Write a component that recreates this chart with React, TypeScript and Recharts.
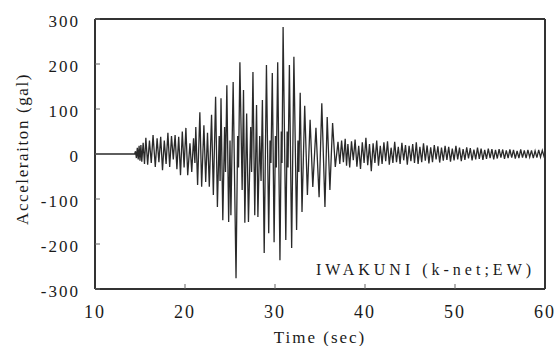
import { LineChart, Line, XAxis, YAxis } from "recharts";

// [time (sec), acceleration (gal)], peak by peak
const preEvent = [
  [10, 0], [14.4, 0],
];

const onset = [
  [14.5, 6], [14.6, -9], [14.7, 14], [14.8, -12], [14.9, 18], [15.0, -15],
  [15.1, 20], [15.2, -17], [15.35, 25], [15.5, -22], [15.65, 36], [15.85, -24],
  [16.05, 30], [16.25, -20], [16.45, 42], [16.7, -29], [16.9, 35], [17.1, -18],
  [17.3, 38], [17.5, -36], [17.7, 30], [17.9, -22], [18.1, 47], [18.3, -29],
  [18.5, 40], [18.7, -12], [18.9, 42], [19.1, -34], [19.3, 38], [19.5, -47],
  [19.7, 50], [19.9, -30],
];

const strongMotion = [
  [20.1, 58], [20.3, -47], [20.55, 24], [20.75, -40], [20.95, 35], [21.1, -20],
  [21.2, 60], [21.4, -69], [21.65, 93], [21.85, -73], [22.1, 64], [22.3, -62],
  [22.5, 47], [22.7, -73], [22.95, 87], [23.15, -91], [23.4, 127], [23.6, -118],
  [23.8, 40], [23.9, -60], [24.0, 124], [24.2, -147], [24.4, 60], [24.5, -40],
  [24.65, 153], [24.85, -151], [25.0, 30], [25.1, -136], [25.35, 160], [25.67, -276],
  [25.85, 40], [25.95, -30], [26.1, 204], [26.35, -80], [26.5, 142], [26.65, -153],
  [26.85, 90], [27.05, -151], [27.3, 60], [27.4, -40], [27.55, 182], [27.75, -136],
  [27.95, 109], [28.1, -140], [28.3, 40], [28.45, -60], [28.6, 120], [28.8, -220],
  [29.05, 198], [29.3, -176], [29.45, 30], [29.55, -20], [29.7, 180], [29.9, -196],
  [30.05, 40], [30.15, -30], [30.3, 204], [30.55, -236], [30.7, 50], [30.78, -20],
  [30.9, 282], [31.2, -191], [31.35, 50], [31.45, -30], [31.6, 198], [31.85, -209],
  [32.1, 216], [32.4, -169], [32.55, 30], [32.65, -40], [32.8, 136], [33.0, -129],
  [33.3, 107], [33.6, -91], [33.9, 76], [34.2, -73], [34.55, 58], [34.9, -96],
  [35.2, 113], [35.55, -118], [35.8, 82], [36.1, -80], [36.4, 69], [36.7, -29],
  [37.0, 27],
];

const coda = [
  [37.2, -22], [37.4, 30], [37.6, -18], [37.8, 34], [37.95, -26], [38.1, 22],
  [38.3, -30], [38.5, 28], [38.7, -14], [38.9, 32], [39.1, -28], [39.3, 18],
  [39.5, -33], [39.7, 26], [39.9, -20], [40.1, 36], [40.3, -25], [40.5, 22],
  [40.7, -38], [40.9, 24], [41.1, -20], [41.3, 30], [41.5, -26], [41.7, 18],
  [41.9, -22], [42.1, 26], [42.3, -16], [42.5, 28], [42.7, -24], [42.9, 14],
  [43.1, -20], [43.3, 27], [43.5, -18], [43.7, 16], [43.9, -22], [44.1, 25],
  [44.3, -14], [44.5, 20], [44.7, -24], [44.9, 18], [45.1, -16], [45.3, 22],
  [45.5, -20], [45.7, 26], [45.9, -22], [46.1, 16], [46.3, -18], [46.5, 24],
  [46.7, -15], [46.9, 19], [47.1, -21], [47.3, 15], [47.5, -18], [47.7, 20],
  [47.9, -12], [48.1, 17], [48.3, -19], [48.5, 14], [48.7, -15], [48.9, 18],
  [49.1, -13], [49.3, 16], [49.5, -17], [49.7, 12], [49.9, -14], [50.1, 18],
  [50.3, -12], [50.5, 14], [50.7, -16], [50.9, 11], [51.1, -13], [51.3, 15],
  [51.5, -10], [51.7, 13], [51.9, -14], [52.1, 10], [52.3, -12], [52.5, 14],
  [52.7, -11], [52.9, 12], [53.1, -13], [53.3, 9], [53.5, -11], [53.7, 12],
  [53.9, -9], [54.1, 11], [54.3, -12], [54.5, 9], [54.7, -10], [54.9, 11],
  [55.1, -8], [55.3, 10], [55.5, -11], [55.7, 8], [55.9, -9], [56.1, 10],
  [56.3, -8], [56.5, 9], [56.7, -10], [56.9, 7], [57.1, -9], [57.3, 10],
  [57.5, -8], [57.7, 8], [57.9, -9], [58.1, 9], [58.3, -7], [58.5, 8],
  [58.7, -9], [58.9, 7], [59.1, -8], [59.3, 9], [59.5, -7], [59.7, 8],
  [59.9, -6], [60.0, -3],
];

const timeTicks = [10, 20, 30, 40, 50, 60];
const accelTicks = [-300, -200, -100, 0, 100, 200, 300];

const data = [...preEvent, ...onset, ...strongMotion, ...coda].map(([t, a]) => ({ t, a }));

const serif = "Liberation Serif";
const frame = { stroke: "#333", strokeWidth: 2 };
const tickMark = { stroke: "#666", strokeWidth: 1 };

export default function App() {
  return (
    <div
      style={{
        position: "absolute",
        left: 0,
        top: 0,
        width: 556,
        height: 346,
        background: "#fff",
        fontFamily: serif,
        color: "#1a1a1a",
      }}
    >
      <LineChart width={556} height={346} data={data} margin={{ top: 0, right: 0, bottom: 0, left: 0 }}>
        <XAxis
          dataKey="t"
          type="number"
          domain={[10, 60]}
          ticks={timeTicks}
          interval={0}
          height={57}
          tickSize={-5}
          tickMargin={21}
          axisLine={frame}
          tickLine={tickMark}
          tick={{ fill: "#1a1a1a", fontSize: 18, fontFamily: serif, letterSpacing: 2 }}
          allowDataOverflow
        />
        <XAxis
          xAxisId="top"
          orientation="top"
          type="number"
          domain={[10, 60]}
          ticks={timeTicks}
          interval={0}
          height={19}
          tickSize={-5}
          axisLine={frame}
          tickLine={tickMark}
          tick={false}
        />
        <YAxis
          type="number"
          domain={[-300, 300]}
          ticks={accelTicks}
          interval={0}
          width={95}
          tickSize={-5}
          tickMargin={20}
          axisLine={frame}
          tickLine={tickMark}
          tick={{ fill: "#1a1a1a", fontSize: 17, fontFamily: serif, letterSpacing: 2, dy: 2 }}
          allowDataOverflow
        />
        <YAxis
          yAxisId="right"
          orientation="right"
          type="number"
          domain={[-300, 300]}
          ticks={accelTicks}
          interval={0}
          width={11}
          tickSize={-5}
          axisLine={frame}
          tickLine={tickMark}
          tick={false}
        />
        <Line
          type="linear"
          dataKey="a"
          stroke="#2a2a2a"
          strokeWidth={1.3}
          dot={false}
          isAnimationActive={false}
        />
      </LineChart>

      <div
        style={{
          position: "absolute",
          left: 22,
          top: 149,
          transform: "translate(-50%, -50%) rotate(-90deg)",
          whiteSpace: "nowrap",
          fontSize: 17,
          letterSpacing: 1.6,
          lineHeight: 1,
        }}
      >
        Acceleraiton (gal)
      </div>
      <div
        style={{
          position: "absolute",
          left: 320,
          top: 329,
          transform: "translateX(-50%)",
          whiteSpace: "nowrap",
          fontSize: 17,
          letterSpacing: 2,
          lineHeight: 1,
        }}
      >
        Time (sec)
      </div>
      <div
        style={{
          position: "absolute",
          left: 316,
          top: 262,
          whiteSpace: "nowrap",
          fontSize: 16,
          letterSpacing: 4,
          lineHeight: 1,
        }}
      >
        IWAKUNI (k-net;EW)
      </div>
    </div>
  );
}
